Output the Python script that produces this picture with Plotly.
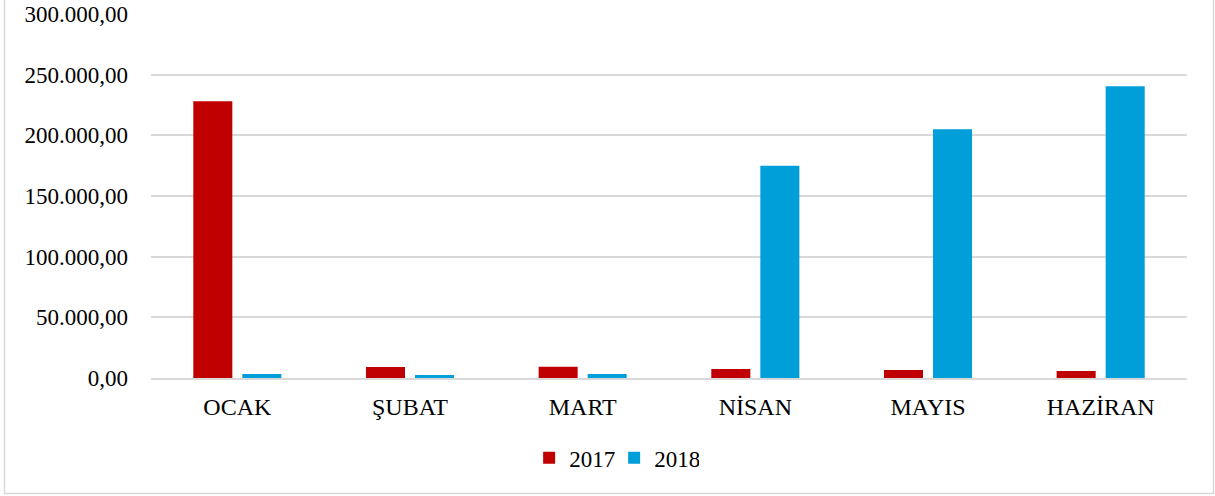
import plotly.graph_objects as go

months = ["OCAK", "ŞUBAT", "MART", "NİSAN", "MAYIS", "HAZİRAN"]
values_2017 = [228000, 9000, 9200, 7400, 6600, 5800]
values_2018 = [3300, 2500, 3300, 175000, 205000, 240500]
y_ticks = [0, 50000, 100000, 150000, 200000, 250000, 300000]

W, H = 1215, 496
L, R, T, B = 151, 28, 14, 118
pw, ph = W - L - R, H - T - B

fig = go.Figure()
fig.add_trace(go.Bar(name="2017", x=months, y=values_2017, marker=dict(color="#C00000", line=dict(width=0))))
fig.add_trace(go.Bar(name="2018", x=months, y=values_2018, marker=dict(color="#009FDA", line=dict(width=0))))

font = "Liberation Serif"
fs = 24

fig.update_layout(
    width=W, height=H,
    margin=dict(l=L, r=R, t=T, b=B, autoexpand=False),
    paper_bgcolor="white", plot_bgcolor="white",
    separators=",.",
    barmode="group", bargap=0.432, bargroupgap=0.204,
    font=dict(family=font, size=fs, color="#000000"),
    showlegend=True,
    legend=dict(orientation="h", x=0.365, xanchor="left", y=-0.16, yanchor="top",
                font=dict(family=font, size=23), itemwidth=30, entrywidth=40,
                traceorder="normal"),
    xaxis=dict(showline=True, linecolor="#d9d9d9", linewidth=1.5, ticks="",
               automargin=False,
               tickfont=dict(family=font, size=fs), ticklabelstandoff=6),
    yaxis=dict(range=[0, 300000], tickvals=y_ticks, tickformat=",.2f",
               automargin=False,
               showgrid=True, gridcolor="#d9d9d9", gridwidth=1.5, zeroline=False,
               showline=False, ticks="", ticklabelstandoff=22,
               tickfont=dict(family=font, size=23)),
)

def px_to_paper_x(p):
    return (p - L) / pw

def px_to_paper_y(p):
    return (H - B - p) / ph

fig.add_shape(type="rect", xref="paper", yref="paper",
              x0=px_to_paper_x(4.5), x1=px_to_paper_x(1213.5),
              y0=px_to_paper_y(493.5), y1=px_to_paper_y(-5),
              line=dict(color="#d9d9d9", width=1.5), fillcolor="rgba(0,0,0,0)", layer="below")

fig.write_html("out.html", config={"displayModeBar": False},
               post_script="document.body.style.margin='0';document.body.style.overflow='hidden';")
